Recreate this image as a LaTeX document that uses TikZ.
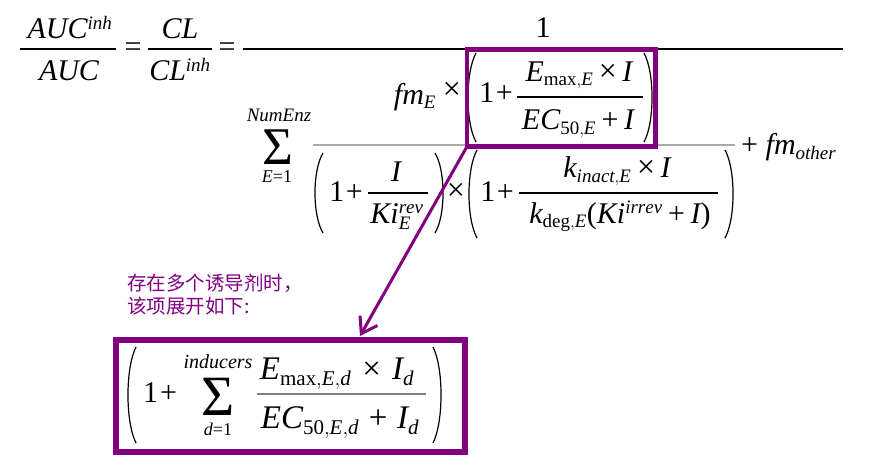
\documentclass[tikz,border=0pt]{standalone}
\usepackage{fontspec}
\setmainfont{Liberation Serif}
\newfontfamily\cjk{Noto Sans CJK SC}
\DeclareSymbolFont{tletters}{TU}{\rmdefault}{m}{it}
\DeclareMathAlphabet{\mathtu}{TU}{\rmdefault}{m}{n}
\makeatletter
\@tfor\@tmpl:=abcdefghijklmnopqrstuvwxyzABCDEFGHIJKLMNOPQRSTUVWXYZ\do{%
  \edef\@tmpcmd{\noexpand\DeclareMathSymbol{\@tmpl}{\noexpand\mathalpha}{tletters}{`\@tmpl}}\@tmpcmd}
\makeatother
\usetikzlibrary{arrows.meta}
\DeclareMathSizes{30}{30}{19}{14}
\DeclareMathSizes{33}{33}{21}{15}
\DeclareMathSizes{19}{19}{12}{9}
\DeclareMathSizes{18}{18}{11}{8}
\DeclareMathSizes{20}{20}{12}{9}
\newcommand{\tn}[2]{\mbox{\fontsize{#1}{#1}\selectfont #2}}
\newcommand{\bop}[1]{\mathbin{\mbox{#1}}}
\newcommand{\tms}{\bop{\fontsize{32}{32}\selectfont ×}}
\definecolor{hlpurple}{RGB}{128,0,128}
\definecolor{linegray}{RGB}{170,170,170}
\newcommand{\LPa}[3]{\draw[parenline] ({#1+8},#2) .. controls ({#1-2.7},{#2+0.22*(#3-#2)}) and ({#1-2.7},{#3-0.22*(#3-#2)}) .. ({#1+8},#3);}
\newcommand{\RPa}[3]{\draw[parenline] ({#1-8},#2) .. controls ({#1+2.7},{#2+0.22*(#3-#2)}) and ({#1+2.7},{#3-0.22*(#3-#2)}) .. ({#1-8},#3);}
\tikzset{
  mt/.style={inner sep=0pt, outer sep=0pt, anchor=base, font=\fontsize{30}{36}\selectfont},
  mtb/.style={inner sep=0pt, outer sep=0pt, anchor=base, font=\fontsize{33}{38}\selectfont},
  limtop/.style={inner sep=0pt, outer sep=0pt, anchor=base, font=\fontsize{19}{20}\selectfont},
  limbot/.style={inner sep=0pt, outer sep=0pt, anchor=base, font=\fontsize{18}{20}\selectfont},
  sig/.style={inner sep=0pt, outer sep=0pt, anchor=base, text depth=0pt, font=\fontsize{53}{53}\selectfont},
  fracline/.style={line width=1.2pt},
  grayline/.style={line width=1.6pt, draw=linegray},
  parenline/.style={line width=1.2pt},
  hlbox/.style={draw=hlpurple, line width=4.5pt},
  arrowline/.style={draw=hlpurple, line width=3pt, -{Straight Barb[length=15pt,width=20pt]}},
  cjktext/.style={inner sep=0pt, anchor=base west, text=hlpurple, font=\cjk\fontsize{19.5}{23}\selectfont}
}
\begin{document}
\begin{tikzpicture}[x=1pt,y=-1pt]
\useasboundingbox (0,0) rectangle (894,473);
% left side
\node[mt] (n1) at (70,39) {$AUC^{inh}$};
\draw[fracline] (20,49) -- (116,49);
\node[mt] (d1) at (69,81) {$AUC$};
\node[mt] (eq1) at (133,57) {=};
\node[mt] (n2) at (180,39) {$CL$};
\draw[fracline] (148,49) -- (212,49);
\node[mt] (d2) at (180,81) {$CL^{inh}$};
\node[mt] (eq2) at (227,57) {=};
% main fraction
\draw[fracline] (243,49) -- (843,49);
\node[mt] (one) at (543,38) {1};
% sum
\node[sig] (sum1) at (278,165) {Σ};
\node[limtop] (sumtop1) at (279,122) {$NumEnz$};
\node[limbot] (sumbot1) at (277,183) {$E\tn{18}{=}\tn{18}{1}$};
\draw[grayline] (313,145) -- (735,145);
% numerator of inner fraction
\node[mt] (fmE) at (415,105) {$fm_E$};
\node[mt, font=\fontsize{32}{36}\selectfont] (times1) at (452,100) {×};
\LPa{468}{53}{142}
\node[mt] (onep1) at (496,103) {1\kern1.5pt+};
\draw[fracline] (517,97) -- (643,97);
\node[mt] (emax) at (579,82) {$E_{\mathtu{max},E}\tms I$};
\node[mt] (ec50) at (578,130) {$EC_{\tn{19}{50},E}\bop{+}I$};
\RPa{652}{53}{142}
% denominator group 1
\LPa{315}{153}{233}
\node[mt] (onep2) at (346,202) {1\kern1.5pt+};
\draw[fracline] (368,193) -- (428,193);
\node[mt] (inum) at (396,182) {$I$};
\node[mt] (kirev) at (397,223) {$Ki_E^{rev}$};
\RPa{443}{153}{233}
\node[mt, font=\fontsize{32}{36}\selectfont] (times2) at (456,200.5) {×};
% denominator group 2
\LPa{469}{150}{238}
\node[mt] (onep3) at (497,202) {1\kern1.5pt+};
\draw[fracline] (519,193) -- (718,193);
\node[mt] (kinact) at (617,178) {$k_{inact,E}\tms I$};
\node[mt] (kdeg) at (620,223) {$k_{\mathtu{deg},E}\mbox{(}Ki^{irrev}\bop{+}I\mbox{)}$};
\RPa{733}{150}{238}
% + fm_other
\node[mt] (plus1) at (749.5,155) {+};
\node[mt] (fmo) at (801,155) {$fm_{other}$};
% highlight box 1
\coordinate (b1a) at (467,49.5);
\coordinate (b1b) at (655.5,146.5);
\draw[hlbox] (b1a) rectangle (b1b);
% note
\node[cjktext] (note1) at (127,290) {存在多个诱导剂时，};
\node[cjktext] (note2) at (127,313) {该项展开如下:};
% box 2
\coordinate (b2a) at (116,340);
\coordinate (b2b) at (465,452);
\LPa{128}{347}{443}
\node[mt] (onep4) at (160,402) {1\kern2pt+};
\node[sig, font=\fontsize{57}{57}\selectfont] (sum2) at (218.5,415) {Σ};
\node[limtop, font=\fontsize{20}{22}\selectfont] (sumtop2) at (218,368) {$inducers$};
\node[limbot] (sumbot2) at (218,435) {$d\tn{18}{=}\tn{18}{1}$};
\draw[fracline, draw=gray] (257,394) -- (426,394);
\node[mtb] (emaxd) at (337,379) {$E_{\mathtu{max},E,d}\mkern4mu\bop{×}\mkern4mu I_d$};
\node[mtb] (ec50d) at (340,428) {$EC_{\tn{21}{50},E,d}\mkern3mu\bop{+}\mkern3mu I_d$};
\RPa{441}{347}{443}
\draw[hlbox, line width=5.5pt] (b2a) rectangle (b2b);
% arrow
\coordinate (tip) at (360,336);
\draw[arrowline] (b1a |- b1b) -- (tip);
\end{tikzpicture}
\end{document}
